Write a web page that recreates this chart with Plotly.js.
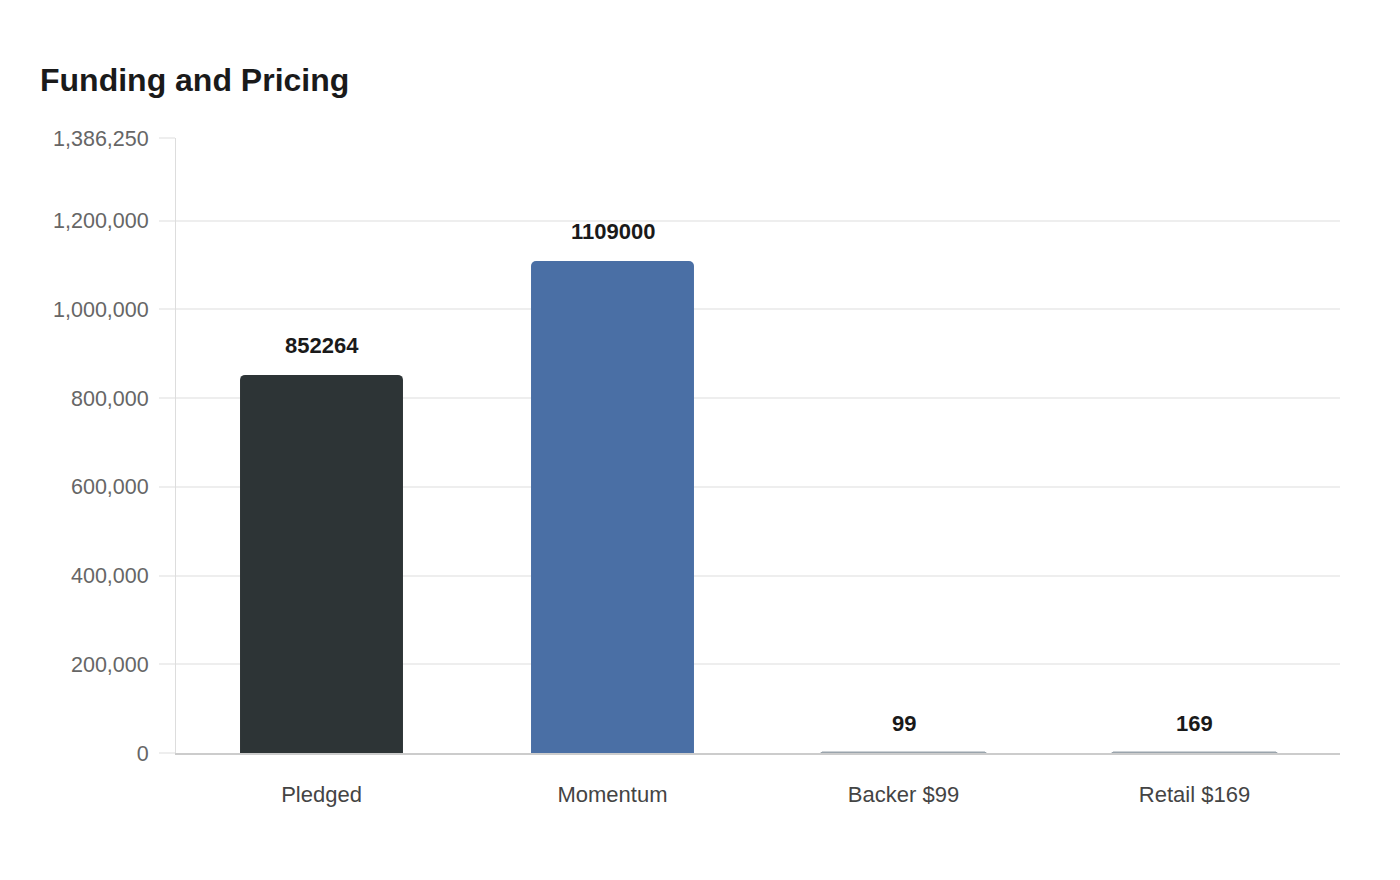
<!DOCTYPE html>
<html>
<head>
<meta charset="utf-8">
<script src="https://cdn.plot.ly/plotly-3.0.1.min.js"></script>
<style>
  html, body { margin: 0; padding: 0; background: #ffffff; }
  #chart { width: 1400px; height: 880px; }
</style>
</head>
<body>
<div id="chart"></div>
<script>
const categories = ["Pledged", "Momentum", "Backer $99", "Retail $169"];
const values = [852264, 1109000, 99, 169];
const barColors = ["#2d3436", "#4a6fa5", "#9aa4ac", "#9aa4ac"];
const tickValues = [0, 200000, 400000, 600000, 800000, 1000000, 1200000, 1386250];
const tickLabels = ["0", "200,000", "400,000", "600,000", "800,000", "1,000,000", "1,200,000", "1,386,250"];

// tiny bars get an outline so they still show as a thin line
var lineWidths = values.map(v => v < 1000 ? 3 : 0);

var bars = {
  x: categories,
  y: values,
  type: 'bar',
  width: 0.56,
  marker: {
    color: barColors,
    cornerradius: 5,
    line: { color: barColors, width: lineWidths }
  },
  hoverinfo: 'x+y'
};

var labels = categories.map((c, i) => ({
  x: c,
  y: values[i],
  text: '<b>' + values[i] + '</b>',
  showarrow: false,
  yanchor: 'bottom',
  yshift: 15,
  font: { family: 'Liberation Sans, Arial, sans-serif', size: 22, color: '#1a1a1a' }
}));

var layout = {
  width: 1400,
  height: 880,
  paper_bgcolor: '#ffffff',
  plot_bgcolor: '#ffffff',
  margin: { l: 176, r: 60, t: 138, b: 127 },
  font: { family: 'Liberation Sans, Arial, sans-serif' },
  title: {
    text: '<b>Funding and Pricing</b>',
    x: 40 / 1400, xref: 'container', xanchor: 'left',
    y: 1 - 80 / 880, yref: 'container', yanchor: 'middle',
    font: { size: 32, color: '#1a1a1a' }
  },
  xaxis: {
    type: 'category',
    showgrid: false,
    showline: true,
    linecolor: '#cccccc',
    linewidth: 2,
    ticks: '',
    tickfont: { size: 22, color: '#444444' },
    ticklabelstandoff: 21,
    fixedrange: true
  },
  yaxis: {
    range: [0, 1386250],
    tickvals: tickValues,
    ticktext: tickLabels,
    showgrid: true,
    gridcolor: '#eeeeee',
    gridwidth: 2,
    zeroline: false,
    showline: true,
    linecolor: '#dddddd',
    linewidth: 1,
    ticks: 'outside',
    ticklen: 16,
    tickcolor: '#eeeeee',
    tickwidth: 2,
    tickfont: { size: 21.5, color: '#666666' },
    ticklabelstandoff: 6,
    fixedrange: true
  },
  annotations: labels,
  showlegend: false
};

Plotly.newPlot('chart', [bars], layout, { displayModeBar: false, staticPlot: true });
</script>
</body>
</html>
